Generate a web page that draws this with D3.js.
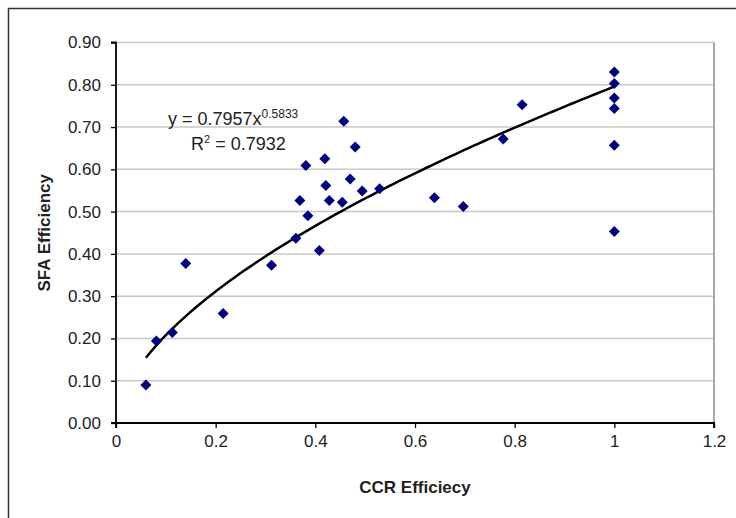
<!DOCTYPE html>
<html>
<head>
<meta charset="utf-8">
<script src="https://cdn.jsdelivr.net/npm/d3@7"></script>
<style>
  body { margin: 0; background: #fff; }
  text { font-family: Arial, "Liberation Sans", sans-serif; fill: #222; }
</style>
</head>
<body>
<svg id="chart" width="736" height="518"></svg>
<script>
// CCR efficiency (x) vs SFA efficiency (y)
const ccr = [0.06, 0.081, 0.113, 0.140, 0.215, 0.312, 0.361, 0.408, 0.385, 0.369,
             0.381, 0.419, 0.421, 0.428, 0.454, 0.457, 0.470, 0.480, 0.494, 0.529,
             0.639, 0.697, 0.777, 0.815, 1, 1, 1, 1, 1, 1];
const sfa = [0.090, 0.194, 0.214, 0.377, 0.259, 0.373, 0.437, 0.408, 0.490, 0.526,
             0.609, 0.625, 0.562, 0.526, 0.522, 0.714, 0.577, 0.653, 0.549, 0.554,
             0.533, 0.512, 0.672, 0.753, 0.830, 0.803, 0.769, 0.744, 0.657, 0.453];
const xTicks = [0, 0.2, 0.4, 0.6, 0.8, 1, 1.2];
const yTicks = [0, 0.1, 0.2, 0.3, 0.4, 0.5, 0.6, 0.7, 0.8, 0.9];
// power trendline shown on the chart
const trendA = 0.7957, trendB = 0.5833, rSquared = 0.7932;

const svg = d3.select("#chart");
const plotL = 116, plotR = 714, plotT = 42.5, plotB = 423;

const x = d3.scaleLinear().domain([0, 1.2]).range([plotL, plotR]);
const y = d3.scaleLinear().domain([0, 0.9]).range([plotB, plotT]);

// outer frame
svg.append("path")
  .attr("d", `M8.5,${518} V8.5 H736`)
  .attr("fill", "none").attr("stroke", "#333").attr("stroke-width", 1.5);

// gridlines
svg.append("g").selectAll("line")
  .data(yTicks.slice(1))
  .join("line")
  .attr("x1", plotL).attr("x2", plotR)
  .attr("y1", d => y(d)).attr("y2", d => y(d))
  .attr("stroke", "#c8c8c8").attr("stroke-width", 1.5);

// plot border right side
svg.append("line")
  .attr("x1", plotR).attr("x2", plotR).attr("y1", plotT).attr("y2", plotB)
  .attr("stroke", "#a8a8a8").attr("stroke-width", 2);

// axes
const xAxis = svg.append("g")
  .attr("transform", `translate(0,${plotB})`)
  .call(d3.axisBottom(x).tickValues(xTicks).tickSize(5).tickPadding(7).tickFormat(d3.format("")));
const yAxis = svg.append("g")
  .attr("transform", `translate(${plotL},0)`)
  .call(d3.axisLeft(y).tickValues(yTicks).tickSize(5).tickPadding(10).tickFormat(d3.format(".2f")));

[xAxis, yAxis].forEach(g => {
  g.select(".domain").attr("stroke", "#000").attr("stroke-width", 1.8);
  g.selectAll(".tick line").attr("stroke", "#000").attr("stroke-width", 1.3);
  g.selectAll(".tick text").style("font-size", "17px").attr("fill", "#2a2a2a");
});
xAxis.select(".domain").attr("d", `M${plotL},5V0H${plotR}V5`);
yAxis.select(".domain").attr("d", `M-5,${plotB}H0V${plotT}H-5`);

// trendline
const xMin = d3.min(ccr), xMax = d3.max(ccr);
const trendPts = d3.range(0, 101).map(i => {
  const xv = xMin + (xMax - xMin) * i / 100;
  return [xv, trendA * Math.pow(xv, trendB)];
});
svg.append("path")
  .datum(trendPts)
  .attr("d", d3.line().x(d => x(d[0])).y(d => y(d[1])))
  .attr("fill", "none").attr("stroke", "#000").attr("stroke-width", 2.5);

// points (diamonds)
svg.append("g").selectAll("path")
  .data(ccr.map((d, i) => [d, sfa[i]]))
  .join("path")
  .attr("d", d => `M${x(d[0])},${y(d[1]) - 5.5}l5.5,5.5l-5.5,5.5l-5.5,-5.5z`)
  .attr("fill", "#000080");

// equation
const eq = svg.append("text").attr("x", 168).attr("y", 125).style("font-size", "18px");
eq.append("tspan").text(`y = ${trendA}x`);
eq.append("tspan").attr("dy", -7).style("font-size", "12px").text(trendB);
const r2 = svg.append("text").attr("x", 191).attr("y", 150).style("font-size", "18px");
r2.append("tspan").text("R");
r2.append("tspan").attr("dy", -7).style("font-size", "11px").text("2");
r2.append("tspan").attr("dy", 7).text(` = ${rSquared}`);

// axis titles
svg.append("text")
  .attr("x", 415).attr("y", 493)
  .attr("text-anchor", "middle").style("font-size", "17px").style("font-weight", "bold")
  .text("CCR Efficiecy");
svg.append("text")
  .attr("transform", `translate(50,${(plotT + plotB) / 2}) rotate(-90)`)
  .attr("text-anchor", "middle").style("font-size", "17px").style("font-weight", "bold")
  .text("SFA Efficiency");
</script>
</body>
</html>
